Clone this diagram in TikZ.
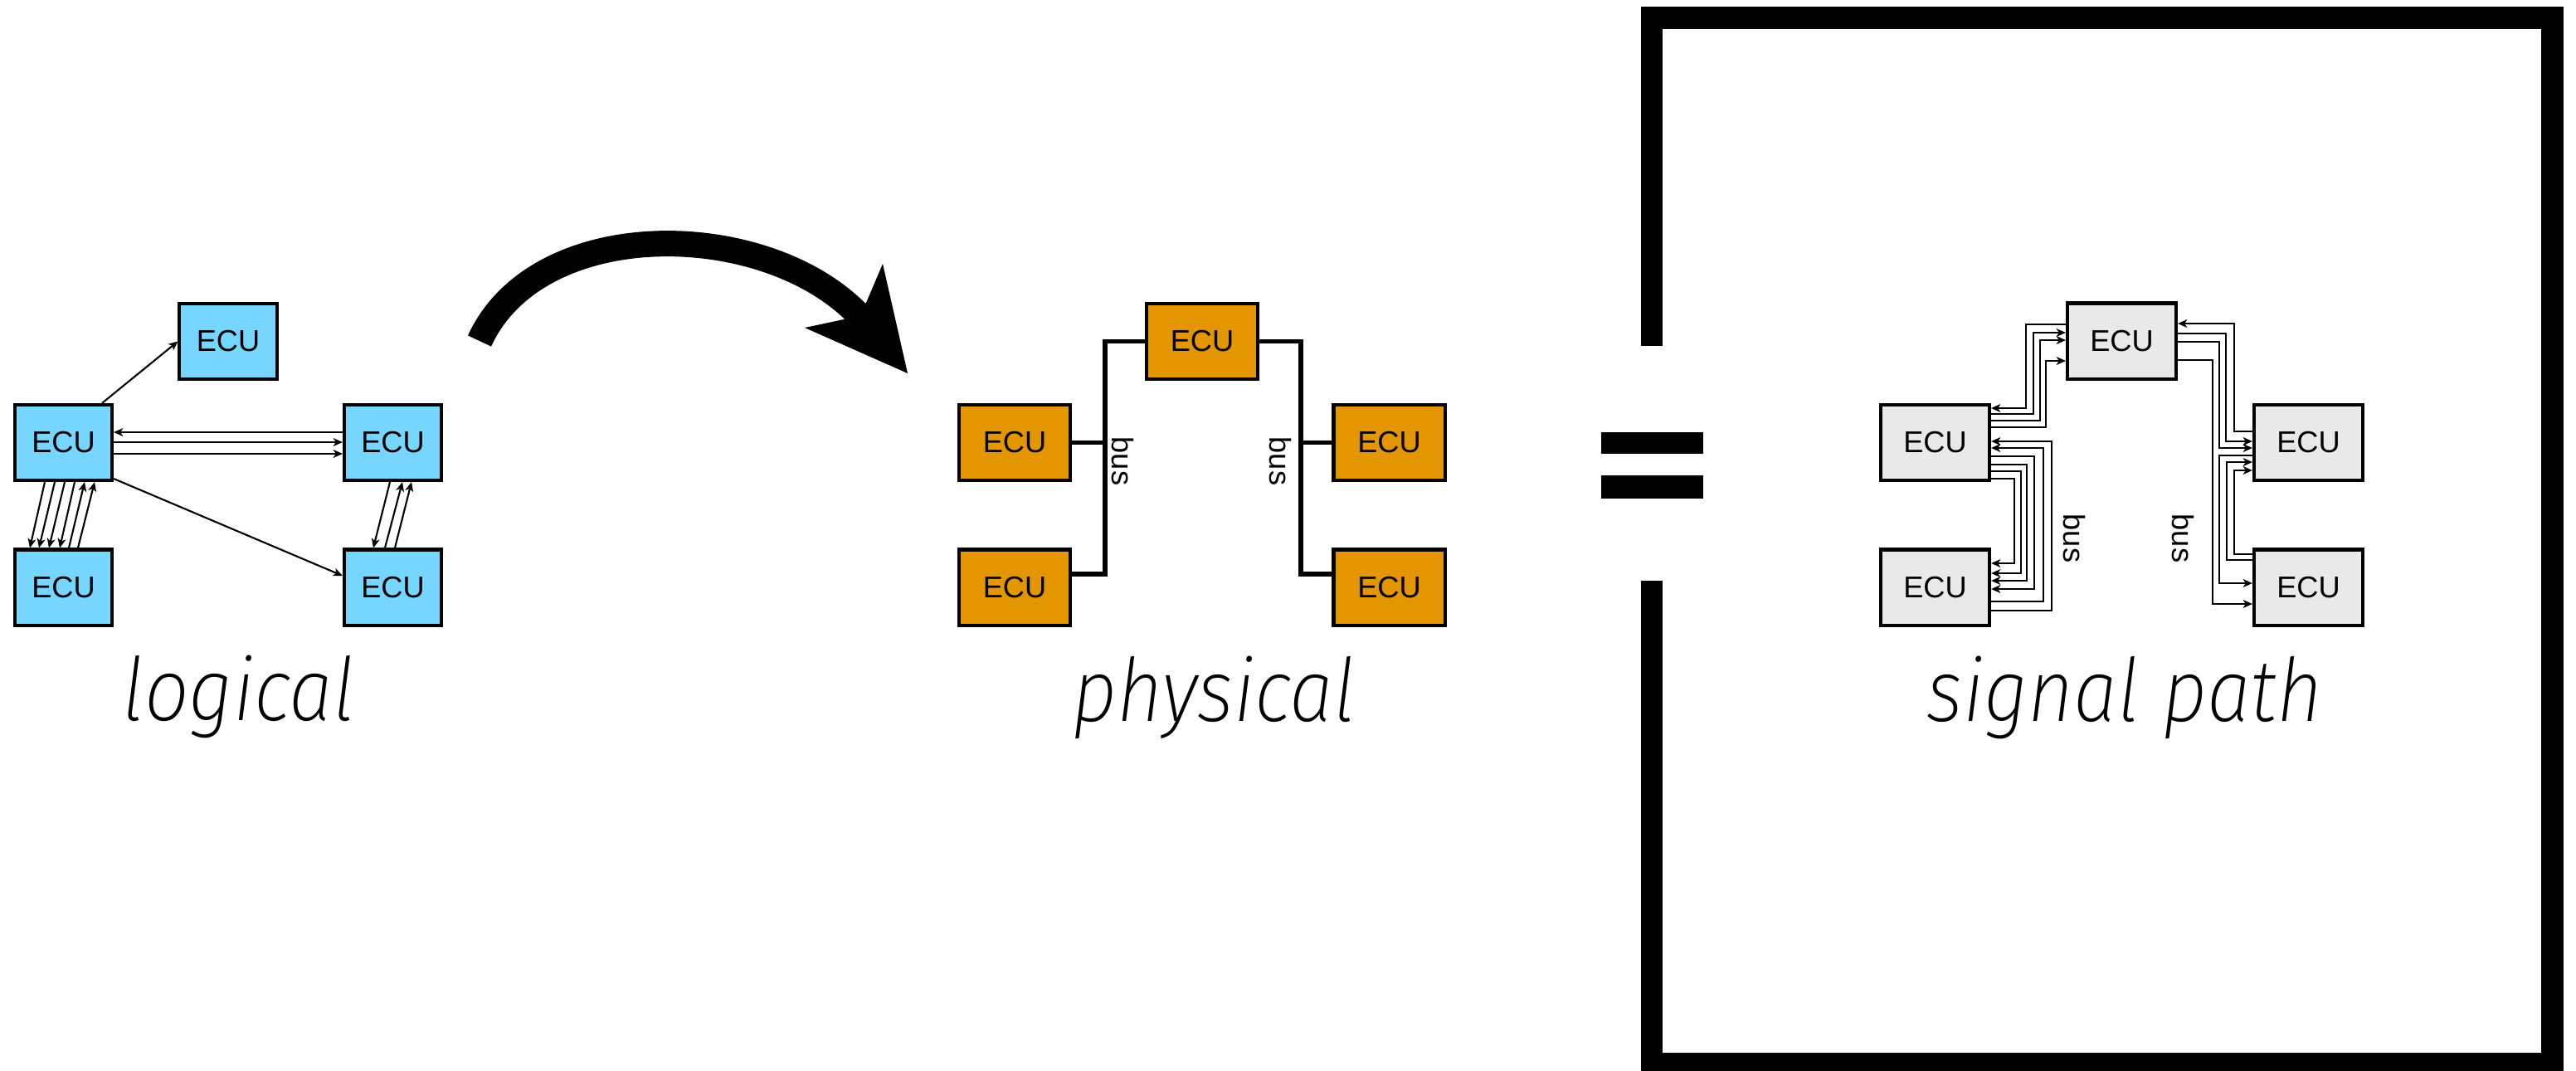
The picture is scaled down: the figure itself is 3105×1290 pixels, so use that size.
\documentclass[tikz,border=0pt]{standalone}
\usepackage{fontspec}
\usepackage{tikz}
\usetikzlibrary{arrows.meta}
\newfontfamily\ecufont{Liberation Sans}
\newfontfamily\capfont{Fira Sans ExtraLight Italic}[FakeStretch=0.9]
\definecolor{logicblue}{RGB}{119,214,255}
\definecolor{physorange}{RGB}{227,150,0}
\definecolor{siggray}{RGB}{233,233,233}
\tikzset{
  ecu/.style={draw=black, line width=1.15pt, inner sep=0pt, minimum height=0.91cm, font=\ecufont\fontsize{10.3pt}{12pt}\selectfont},
  logicecu/.style={ecu, fill=logicblue, minimum width=1.17cm},
  physecu/.style={ecu, fill=physorange, minimum width=1.34cm},
  sigecu/.style={ecu, fill=siggray, minimum width=1.31cm},
  lg/.style={line width=0.6pt, -{Stealth[length=3.2pt, width=2.8pt, inset=0.9pt]}},
  sig/.style={line width=0.55pt, -{Stealth[length=3.2pt, width=2.8pt, inset=0.9pt]}},
  bus/.style={line width=1.55pt, line join=miter},
  buslabel/.style={font=\ecufont\fontsize{10.3pt}{12pt}\selectfont, rotate=-90, inner sep=0pt},
  sectiontitle/.style={font=\capfont\fontsize{30pt}{36pt}\selectfont, anchor=base, inner sep=0pt},
  framebar/.style={line width=0.265cm, line join=miter, line cap=butt},
  bigarrow/.style={line width=0.31cm, line cap=butt},
}

\begin{document}
\begin{tikzpicture}[x=0.01cm, y=-0.01cm]
\useasboundingbox (0,0) rectangle (3105,1290);
\node[logicecu] (lt) at (275,411.5) {ECU};
\node[logicecu] (ll) at (76.5,533.5) {ECU};
\node[logicecu] (lr) at (473.5,533.5) {ECU};
\node[logicecu] (lbl) at (76.5,708) {ECU};
\node[logicecu] (lbr) at (473.5,708) {ECU};
\draw[lg] (ll.north -| 123,0) -- (lt.west);
\draw[lg] (lr.west |- 0,521) -- (ll.east |- 0,521);
\draw[lg] (ll.east |- 0,533) -- (lr.west |- 0,533);
\draw[lg] (ll.east |- 0,547) -- (lr.west |- 0,547);
\draw[lg] (ll.east |- 0,577) -- (lbr.west |- 0,694);
\draw[lg] (ll.south -| 54,0) -- (lbl.north -| 36,0);
\draw[lg] (ll.south -| 66,0) -- (lbl.north -| 47,0);
\draw[lg] (ll.south -| 78,0) -- (lbl.north -| 59,0);
\draw[lg] (ll.south -| 90,0) -- (lbl.north -| 72,0);
\draw[lg] (lbl.north -| 83,0) -- (ll.south -| 102,0);
\draw[lg] (lbl.north -| 94,0) -- (ll.south -| 114,0);
\draw[lg] (lr.south -| 470,0) -- (lbr.north -| 450,0);
\draw[lg] (lbr.north -| 464,0) -- (lr.south -| 485,0);
\draw[lg] (lbr.north -| 476,0) -- (lr.south -| 496,0);
\node[sectiontitle] (logical) at (288,868) {logical};
\draw[bigarrow] (578,411) .. controls (649,256) and (930,262) .. (1040,385);
\fill (1094,450) -- (1064,318) -- (1044,365) -- (1017,385) -- (970,395) -- cycle;
\node[physecu] (pt) at (1449,411.5) {ECU};
\node[physecu] (pl) at (1223,533.5) {ECU};
\node[physecu] (pbl) at (1223,708) {ECU};
\node[physecu] (pr) at (1674.5,533.5) {ECU};
\node[physecu] (pbr) at (1674.5,708) {ECU};
\draw[bus] (pt.west) -| (1332,692) -- (pbl.east |- 0,692);
\draw[bus] (pl.east) -- (pl.east -| 1332,0);
\draw[bus] (pt.east) -| (1568,692) -- (pbr.west |- 0,692);
\draw[bus] (pr.west) -- (pr.west -| 1568,0);
\node[buslabel] (busl) at (1353,556) {bus};
\node[buslabel] (busr) at (1543,556) {bus};
\node[sectiontitle] (physical) at (1463,869) {physical};
\fill (1930,521) rectangle (2053,547);
\fill (1930,573) rectangle (2053,601);
\draw[framebar] (1991,417) -- (1991,21.5) -- (3076.5,21.5) -- (3076.5,1282.5) -- (1991,1282.5) -- (1991,700);
\node[sigecu] (st) at (2557.5,411) {ECU};
\node[sigecu] (sl) at (2332.5,533.5) {ECU};
\node[sigecu] (sbl) at (2332.5,708) {ECU};
\node[sigecu] (sr) at (2782.5,533.5) {ECU};
\node[sigecu] (sbr) at (2782.5,708) {ECU};
\draw[sig] (st.west |- 0,391) -| (2442,492) -- (sl.east |- 0,492);
\draw[sig] (sl.east |- 0,499) -| (2451,401) -- (st.west |- 0,401);
\draw[sig] (sl.east |- 0,507) -| (2459,410) -- (st.west |- 0,410);
\draw[sig] (sl.east |- 0,515) -| (2466,435) -- (st.west |- 0,435);
\draw[sig] (sbl.east |- 0,736) -| (2473,532) -- (sl.east |- 0,532);
\draw[sig] (sbl.east |- 0,725) -| (2463,540) -- (sl.east |- 0,540);
\draw[sig] (sl.east |- 0,550) -| (2452,710) -- (sbl.east |- 0,710);
\draw[sig] (sl.east |- 0,560) -| (2443,700) -- (sbl.east |- 0,700);
\draw[sig] (sl.east |- 0,568) -| (2436,691) -- (sbl.east |- 0,691);
\draw[sig] (sl.east |- 0,577) -| (2428,679) -- (sbl.east |- 0,679);
\draw[sig] (sr.west |- 0,520) -| (2693,390) -- (st.east |- 0,390);
\draw[sig] (st.east |- 0,402) -| (2683,532) -- (sr.west |- 0,532);
\draw[sig] (st.east |- 0,412) -| (2675,540) -- (sr.west |- 0,540);
\draw[sig] (st.east |- 0,434) -| (2667,728) -- (sbr.west |- 0,728);
\draw[sig] (sr.west |- 0,549) -| (2675,703) -- (sbr.west |- 0,703);
\draw[sig] (sbr.west |- 0,675) -| (2684,557) -- (sr.west |- 0,557);
\draw[sig] (sbr.west |- 0,668) -| (2693,567) -- (sr.west |- 0,567);
\node[buslabel] (sbusl) at (2500,649) {bus};
\node[buslabel] (sbusr) at (2631,649) {bus};
\node[sectiontitle] (sigpath) at (2561,869) {signal path};
\end{tikzpicture}
\end{document}
